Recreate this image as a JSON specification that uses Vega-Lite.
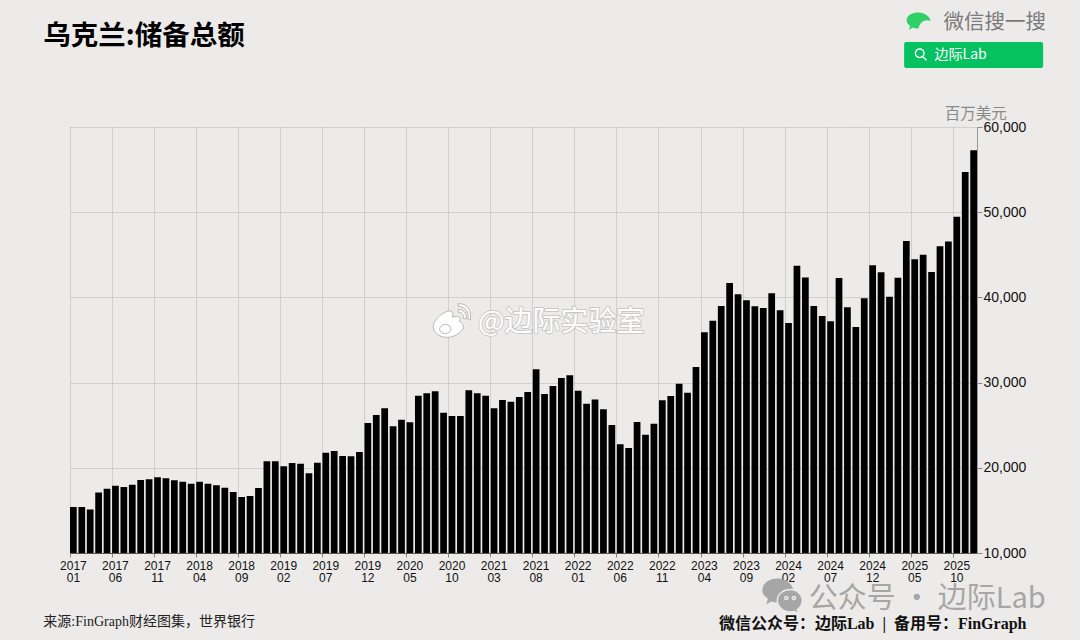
{
  "$schema": "https://vega.github.io/schema/vega-lite/v6.json",
  "width": 907,
  "height": 426,
  "autosize": "none",
  "padding": { "left": 70, "top": 127, "right": 103, "bottom": 87 },
  "background": "#ecebe9",
  "config": {
    "view": { "stroke": null },
    "text": { "font": "Noto Sans CJK SC", "baseline": "middle" }
  },
  "data": {
    "values": [
      {"month":"2017-01","value":15400},{"month":"2017-02","value":15400},{"month":"2017-03","value":15100},{"month":"2017-04","value":17100},
      {"month":"2017-05","value":17550},{"month":"2017-06","value":17900},{"month":"2017-07","value":17750},{"month":"2017-08","value":18000},
      {"month":"2017-09","value":18570},{"month":"2017-10","value":18650},{"month":"2017-11","value":18880},{"month":"2017-12","value":18760},
      {"month":"2018-01","value":18530},{"month":"2018-02","value":18370},{"month":"2018-03","value":18130},{"month":"2018-04","value":18370},
      {"month":"2018-05","value":18130},{"month":"2018-06","value":17940},{"month":"2018-07","value":17670},{"month":"2018-08","value":17160},
      {"month":"2018-09","value":16570},{"month":"2018-10","value":16690},{"month":"2018-11","value":17630},{"month":"2018-12","value":20760},
      {"month":"2019-01","value":20760},{"month":"2019-02","value":20170},{"month":"2019-03","value":20560},{"month":"2019-04","value":20480},
      {"month":"2019-05","value":19350},{"month":"2019-06","value":20600},{"month":"2019-07","value":21770},{"month":"2019-08","value":21970},
      {"month":"2019-09","value":21380},{"month":"2019-10","value":21350},{"month":"2019-11","value":21850},{"month":"2019-12","value":25260},
      {"month":"2020-01","value":26200},{"month":"2020-02","value":27000},{"month":"2020-03","value":24870},{"month":"2020-04","value":25650},
      {"month":"2020-05","value":25340},{"month":"2020-06","value":28460},{"month":"2020-07","value":28740},{"month":"2020-08","value":28980},
      {"month":"2020-09","value":26470},{"month":"2020-10","value":26080},{"month":"2020-11","value":26080},{"month":"2020-12","value":29090},
      {"month":"2021-01","value":28740},{"month":"2021-02","value":28460},{"month":"2021-03","value":26980},{"month":"2021-04","value":27960},
      {"month":"2021-05","value":27760},{"month":"2021-06","value":28310},{"month":"2021-07","value":28900},{"month":"2021-08","value":31560},
      {"month":"2021-09","value":28660},{"month":"2021-10","value":29600},{"month":"2021-11","value":30540},{"month":"2021-12","value":30850},
      {"month":"2022-01","value":29050},{"month":"2022-02","value":27520},{"month":"2022-03","value":28030},{"month":"2022-04","value":26860},
      {"month":"2022-05","value":25020},{"month":"2022-06","value":22760},{"month":"2022-07","value":22320},{"month":"2022-08","value":25380},
      {"month":"2022-09","value":23890},{"month":"2022-10","value":25180},{"month":"2022-11","value":27920},{"month":"2022-12","value":28430},
      {"month":"2023-01","value":29870},{"month":"2023-02","value":28820},{"month":"2023-03","value":31830},{"month":"2023-04","value":35900},
      {"month":"2023-05","value":37270},{"month":"2023-06","value":38990},{"month":"2023-07","value":41690},{"month":"2023-08","value":40360},
      {"month":"2023-09","value":39660},{"month":"2023-10","value":38950},{"month":"2023-11","value":38760},{"month":"2023-12","value":40480},
      {"month":"2024-01","value":38480},{"month":"2024-02","value":37000},{"month":"2024-03","value":43720},{"month":"2024-04","value":42350},
      {"month":"2024-05","value":38990},{"month":"2024-06","value":37820},{"month":"2024-07","value":37190},{"month":"2024-08","value":42280},
      {"month":"2024-09","value":38830},{"month":"2024-10","value":36530},{"month":"2024-11","value":39890},{"month":"2024-12","value":43760},
      {"month":"2025-01","value":42940},{"month":"2025-02","value":40080},{"month":"2025-03","value":42310},{"month":"2025-04","value":46620},
      {"month":"2025-05","value":44470},{"month":"2025-06","value":45010},{"month":"2025-07","value":42980},{"month":"2025-08","value":45990},
      {"month":"2025-09","value":46570},{"month":"2025-10","value":49470},{"month":"2025-11","value":54720},{"month":"2025-12","value":57260}
    ]
  },
  "encoding": {
    "x": {
      "field": "month",
      "type": "ordinal",
      "sort": null,
      "title": null,
      "scale": { "paddingInner": 0.2, "paddingOuter": 0.001 },
      "axis": {
        "bandPosition": 0,
        "values": ["2017-01","2017-06","2017-11","2018-04","2018-09","2019-02","2019-07","2019-12","2020-05","2020-10","2021-03","2021-08","2022-01","2022-06","2022-11","2023-04","2023-09","2024-02","2024-07","2024-12","2025-05","2025-10"],
        "labelExpr": "split(datum.value, '-')",
        "labelAngle": 0,
        "labelAlign": "center",
        "labelPadding": 3,
        "labelFont": "Liberation Sans",
        "labelFontSize": 12,
        "labelColor": "#111111",
        "labelLineHeight": 12,
        "labelOverlap": false,
        "grid": true,
        "gridColor": "#b4b4b4",
        "gridDash": [1, 1],
        "tickColor": "#888888",
        "tickSize": 4,
        "domainColor": "#555555"
      }
    },
    "y": {
      "field": "value",
      "type": "quantitative",
      "title": null,
      "scale": { "domain": [10000, 60000], "nice": false },
      "axis": {
        "orient": "right",
        "values": [10000, 20000, 30000, 40000, 50000, 60000],
        "format": ",.0f",
        "labelFont": "Liberation Sans",
        "labelFontSize": 14,
        "labelColor": "#111111",
        "labelPadding": 1,
        "grid": true,
        "gridColor": "#b4b4b4",
        "gridDash": [1, 1],
        "tickColor": "#888888",
        "tickSize": 5,
        "domainColor": "#999999"
      }
    }
  },
  "layer": [
    {
      "mark": { "type": "bar", "color": "#000000", "clip": true }
    },
    {
      "data": { "values": [{ "month": "2017-01", "value": 70600, "label": "乌克兰:储备总额" }] },
      "mark": { "type": "text", "align": "left", "dx": -30, "fontSize": 27.5, "fontWeight": "bold", "color": "#000000" },
      "encoding": { "text": { "field": "label" } }
    },
    {
      "data": { "values": [{ "month": "2025-12", "value": 61525, "label": "百万美元" }] },
      "mark": { "type": "text", "dx": 2, "fontSize": 15.5, "color": "#8a8a8a" },
      "encoding": { "text": { "field": "label" } }
    },
    {
      "data": { "values": [{ "month": "2017-01", "value": 1900, "label": "来源:FinGraph财经图集\uff0c世界银行" }] },
      "mark": { "type": "text", "align": "left", "dx": -30, "font": "Liberation Serif, Noto Sans CJK SC", "fontSize": 14, "color": "#222222" },
      "encoding": { "text": { "field": "label" } }
    },
    {
      "data": { "values": [{ "month": "2025-06", "value": 4600, "label": "公众号 · 边际Lab" }] },
      "mark": { "type": "text", "dx": 4, "fontSize": 29, "color": "#8f8f8f", "opacity": 0.75 },
      "encoding": { "text": { "field": "label" } }
    },
    {
      "data": { "values": [{ "month": "2024-12", "value": 1680, "label": "微信公众号\uff1a边际Lab \u00a0|\u00a0 备用号\uff1aFinGraph" }] },
      "mark": { "type": "text", "font": "Liberation Serif, Noto Sans CJK SC", "fontSize": 16, "fontWeight": "bold", "color": "#111111" },
      "encoding": { "text": { "field": "label" } }
    },
    {
      "data": { "values": [{ "month": "2021-11", "value": 37000, "label": "@边际实验室" }] },
      "mark": { "type": "text", "fontSize": 28, "color": "#ffffff", "stroke": "#a8a8a8", "strokeWidth": 2, "strokeOpacity": 0.5 },
      "encoding": { "text": { "field": "label" } }
    },
    {
      "data": { "values": [{ "month": "2021-11", "value": 37000, "label": "@边际实验室" }] },
      "mark": { "type": "text", "fontSize": 28, "color": "#ffffff" },
      "encoding": { "text": { "field": "label" } }
    },
    {
      "data": { "values": [{ "month": "2025-12", "value": 72200, "label": "微信搜一搜" }] },
      "mark": { "type": "text", "dx": 21, "fontSize": 20.5, "color": "#7a7a7a" },
      "encoding": { "text": { "field": "label" } }
    },
    {
      "data": { "values": [{ "month": "2025-12", "value": 68450 }] },
      "mark": { "type": "point", "filled": true, "opacity": 1, "color": "#06c160", "clip": false },
      "encoding": {
        "shape": { "value": "M-0.97,-0.187 H0.97 Q1,-0.187 1,-0.157 V0.157 Q1,0.187 0.97,0.187 H-0.97 Q-1,0.187 -1,0.157 V-0.157 Q-1,-0.187 -0.97,-0.187 Z" },
        "size": { "value": 19321 }
      }
    },
    {
      "data": { "values": [{ "month": "2025-12", "value": 68450, "label": "边际Lab" }] },
      "mark": { "type": "text", "dx": -13, "fontSize": 14, "color": "#ffffff" },
      "encoding": { "text": { "field": "label" } }
    },
    {
      "data": { "values": [{ "month": "2025-12", "value": 68570 }] },
      "mark": { "type": "point", "filled": false, "opacity": 1, "color": "#ffffff", "strokeWidth": 1.4, "xOffset": -53 },
      "encoding": {
        "shape": { "value": "M-0.75,-0.1 a0.62,0.62 0 1,0 1.24,0 a0.62,0.62 0 1,0 -1.24,0 M0.3,0.38 L0.85,0.9" },
        "size": { "value": 196 }
      }
    },
    {
      "data": { "values": [{ "month": "2025-12", "value": 72300 }] },
      "mark": { "type": "point", "filled": true, "opacity": 1, "color": "#2fd066", "xOffset": -55 },
      "encoding": {
        "shape": { "value": "M-1,-0.1 C-1,-0.6 -0.5,-0.8 0,-0.8 C0.5,-0.8 0.9,-0.5 1,-0.1 C0.5,-0.3 0.1,0 0,0.5 C-0.2,0.55 -0.4,0.5 -0.5,0.45 L-0.8,0.65 L-0.72,0.3 C-0.9,0.15 -1,0 -1,-0.1 Z" },
        "size": { "value": 576 }
      }
    },
    {
      "data": { "values": [{ "month": "2025-04", "value": 5000 }] },
      "mark": { "type": "point", "filled": true, "opacity": 1, "color": "#a6a6a6", "xOffset": -124 },
      "encoding": {
        "shape": { "value": "M-1,-0.25 C-1,-0.65 -0.6,-0.85 -0.25,-0.85 C0.2,-0.85 0.5,-0.6 0.55,-0.25 C0.55,0.15 0.2,0.35 -0.25,0.35 C-0.35,0.35 -0.45,0.33 -0.55,0.3 L-0.8,0.45 L-0.72,0.15 C-0.9,0.05 -1,-0.1 -1,-0.25 Z M-0.6,-0.35 a0.1,0.1 0 1,1 0.2,0 a0.1,0.1 0 1,1 -0.2,0 Z M-0.1,-0.35 a0.1,0.1 0 1,1 0.2,0 a0.1,0.1 0 1,1 -0.2,0 Z" },
        "size": { "value": 1600 }
      }
    },
    {
      "data": { "values": [{ "month": "2025-04", "value": 5000 }] },
      "mark": { "type": "point", "filled": true, "opacity": 1, "color": "#a6a6a6", "stroke": "#ecebe9", "strokeWidth": 1.5, "xOffset": -124 },
      "encoding": {
        "shape": { "value": "M-0.25,0.25 C-0.25,-0.1 0.05,-0.3 0.4,-0.3 C0.75,-0.3 1,-0.05 1,0.25 C1,0.45 0.9,0.6 0.75,0.7 L0.82,0.92 L0.6,0.8 C0.5,0.82 0.45,0.82 0.4,0.82 C0.05,0.82 -0.25,0.55 -0.25,0.25 Z M0.12,0.12 a0.08,0.08 0 1,1 0.16,0 a0.08,0.08 0 1,1 -0.16,0 Z M0.5,0.12 a0.08,0.08 0 1,1 0.16,0 a0.08,0.08 0 1,1 -0.16,0 Z" },
        "size": { "value": 1600 }
      }
    },
    {
      "data": { "values": [{ "month": "2021-11", "value": 37230 }] },
      "mark": { "type": "point", "filled": true, "opacity": 1, "color": "#ffffff", "stroke": "#a8a8a8", "strokeWidth": 0.8, "xOffset": -110 },
      "encoding": {
        "shape": { "value": "M-0.95,0.3 C-0.95,0 -0.6,-0.35 -0.25,-0.5 C0,-0.6 0.15,-0.45 0.05,-0.2 C0.35,-0.3 0.55,-0.2 0.42,0.02 C0.6,0.1 0.68,0.25 0.6,0.42 C0.4,0.75 0,0.88 -0.3,0.86 C-0.65,0.82 -0.95,0.62 -0.95,0.3 Z M-0.62,0.42 a0.3,0.24 0 1,1 0.6,0 a0.3,0.24 0 1,1 -0.6,0 Z M0.35,-0.6 C0.6,-0.65 0.85,-0.4 0.78,-0.1 L0.62,-0.15 C0.66,-0.35 0.52,-0.48 0.37,-0.46 Z M0.35,-0.9 C0.8,-0.98 1.1,-0.55 1,-0.05 L0.87,-0.1 C0.95,-0.45 0.72,-0.8 0.37,-0.76 Z" },
        "size": { "value": 1444 }
      }
    }
  ]
}
